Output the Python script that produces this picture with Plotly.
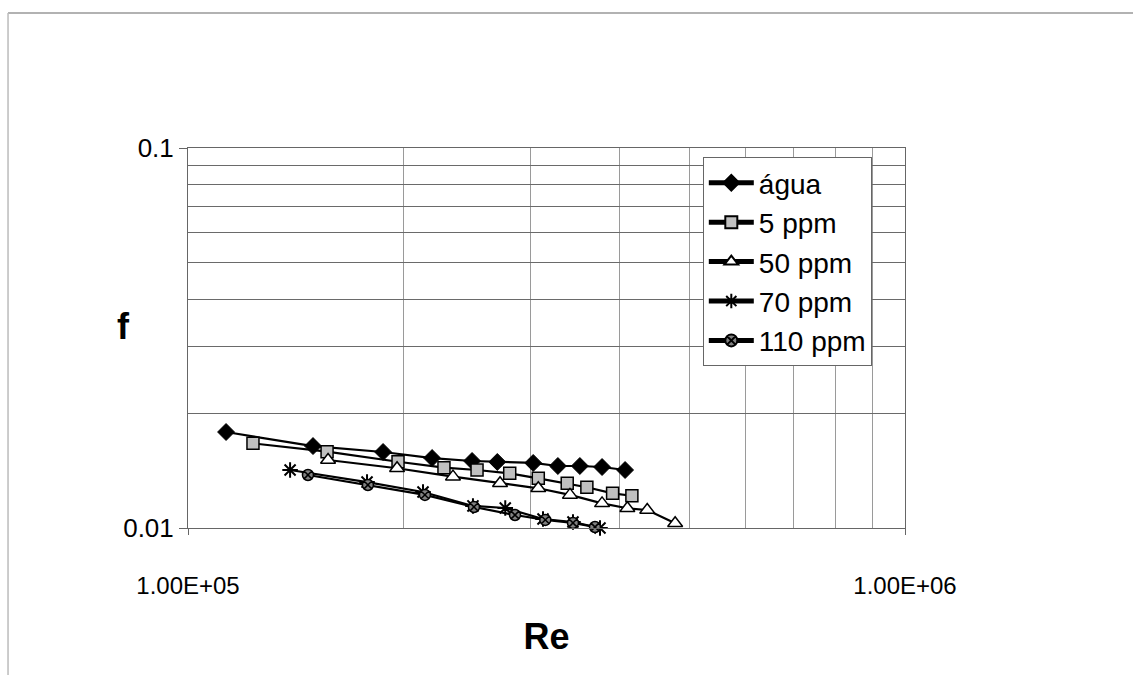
import plotly.graph_objects as go

# ---- data ----
re_agua = [1.13e5, 1.494e5, 1.871e5, 2.19e5, 2.49e5, 2.70e5, 3.03e5, 3.28e5, 3.52e5, 3.78e5, 4.07e5]
f_agua = [0.01789, 0.01643, 0.01585, 0.01528, 0.01501, 0.01492, 0.01483, 0.01456, 0.01456, 0.01447, 0.01421]

re_5 = [1.232e5, 1.563e5, 1.963e5, 2.275e5, 2.53e5, 2.81e5, 3.08e5, 3.38e5, 3.60e5, 3.91e5, 4.16e5]
f_5 = [0.0167, 0.01588, 0.01494, 0.01441, 0.01421, 0.01393, 0.01351, 0.01311, 0.0128, 0.01234, 0.01216]

re_50 = [1.568e5, 1.957e5, 2.342e5, 2.724e5, 3.08e5, 3.41e5, 3.78e5, 4.10e5, 4.37e5, 4.78e5]
f_50 = [0.0151, 0.01436, 0.01365, 0.01311, 0.01272, 0.01222, 0.01161, 0.01127, 0.01115, 0.01029]

re_70 = [1.388e5, 1.777e5, 2.127e5, 2.497e5, 2.77e5, 3.127e5, 3.443e5, 3.755e5, 4.03e5]
f_70 = [0.01421, 0.01321, 0.01244, 0.01143, 0.01129, 0.01056, 0.01037, 0.0100, 0.00976]

re_110 = [1.47e5, 1.782e5, 2.14e5, 2.505e5, 2.858e5, 3.15e5, 3.443e5, 3.695e5, 3.84e5]
f_110 = [0.01379, 0.01298, 0.01222, 0.01136, 0.01082, 0.0105, 0.01031, 0.01006, 0.00994]

series_names = ["água", "5 ppm", "50 ppm", "70 ppm", "110 ppm"]

x_tickvals = [1e5, 1e6]
x_ticktext = ["1.00E+05", "1.00E+06"]
x_grid = [2e5, 3e5, 4e5, 5e5, 6e5, 7e5, 8e5, 9e5]
y_tickvals = [0.01, 0.1]
y_ticktext = ["0.01", "0.1"]
y_grid = [0.02, 0.03, 0.04, 0.05, 0.06, 0.07, 0.08, 0.09]

FONT = "Liberation Sans, Arial, sans-serif"

styles = [
    dict(symbol="diamond", size=13, color="black", line=dict(color="black", width=1)),
    dict(symbol="square", size=12, color="#c0c0c0", line=dict(color="black", width=1.5)),
    dict(symbol="triangle-up", size=13, color="white", line=dict(color="black", width=1.5)),
    dict(symbol="asterisk-open", size=13, color="black", line=dict(color="black", width=2)),
    dict(symbol="circle-x", size=11, color="#808080", line=dict(color="black", width=1.5)),
]

fig = go.Figure()
for (xs, ys), name, mk in zip(
    [(re_agua, f_agua), (re_5, f_5), (re_50, f_50), (re_70, f_70), (re_110, f_110)],
    series_names, styles):
    fig.add_trace(go.Scatter(
        x=xs, y=ys, name=name, mode="lines+markers",
        line=dict(color="black", width=2.2),
        marker=mk, cliponaxis=False,
    ))

fig.update_layout(
    width=1133, height=675,
    margin=dict(l=188, r=228, t=148, b=147),
    paper_bgcolor="white", plot_bgcolor="white",
    font=dict(family=FONT, color="black", size=24),
    legend=dict(
        x=0.718, y=0.976, xanchor="left", yanchor="top",
        bgcolor="white", bordercolor="#666", borderwidth=1,
        font=dict(size=28, family=FONT), itemwidth=45,
        itemsizing="constant", tracegroupgap=0,
    ),
    showlegend=True,
    annotations=[dict(
        text="<b>f</b>", xref="paper", yref="paper",
        x=-0.09, y=0.53, xanchor="center", yanchor="middle",
        showarrow=False, font=dict(size=36, family=FONT, color="black"),
    )],
)

fig.update_xaxes(
    type="log", range=[5, 6],
    tickvals=x_tickvals, ticktext=x_ticktext,
    ticks="outside", ticklen=6, tickcolor="#666",
    ticklabelstandoff=30,
    showgrid=True, gridcolor="#8a8a8a", gridwidth=1,
    minor=dict(tickvals=x_grid, showgrid=True, gridcolor="#9a9a9a", gridwidth=1, ticks=""),
    showline=True, linecolor="#666", linewidth=1, mirror=True,
    tickfont=dict(size=24),
    title=dict(text="<b>Re</b>", font=dict(size=36, family=FONT), standoff=26),
    zeroline=False,
)
fig.update_yaxes(
    type="log", range=[-2, -1],
    tickvals=y_tickvals, ticktext=y_ticktext,
    ticks="outside", ticklen=8, tickcolor="#666",
    showgrid=True, gridcolor="#6a6a6a", gridwidth=1,
    minor=dict(tickvals=y_grid, showgrid=True, gridcolor="#6a6a6a", gridwidth=1, ticks=""),
    showline=True, linecolor="#666", linewidth=1, mirror=True,
    tickfont=dict(size=26),
    zeroline=False,
)

# outer chart frame (top and left edges visible in reference)
fig.add_shape(type="line", xref="paper", yref="paper",
              x0=-0.251, x1=1.32, y0=1.355, y1=1.355,
              line=dict(color="#999", width=1.5))
fig.add_shape(type="line", xref="paper", yref="paper",
              x0=-0.251, x1=-0.251, y0=1.355, y1=-0.39,
              line=dict(color="#bbb", width=1.5))

fig.write_html("out.html")
